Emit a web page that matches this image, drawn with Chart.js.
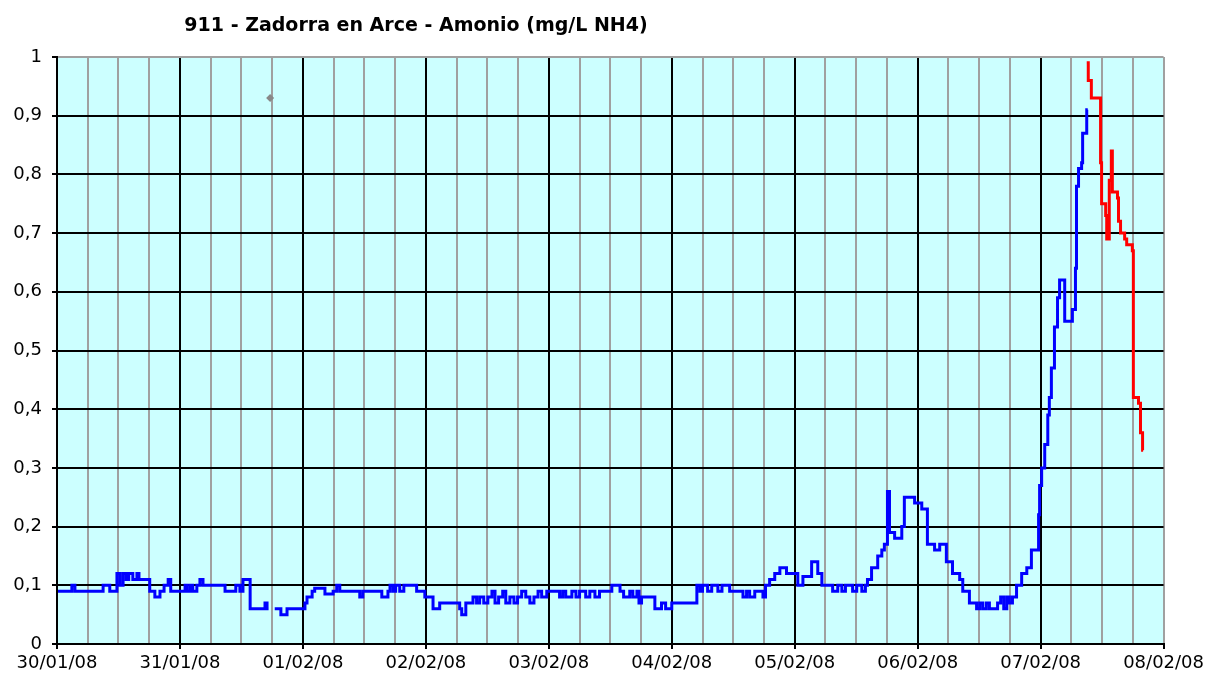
<!DOCTYPE html>
<html>
<head>
<meta charset="utf-8">
<script src="https://cdn.jsdelivr.net/npm/chart.js@4/dist/chart.umd.min.js"></script>
<style>
  html, body { margin: 0; padding: 0; background: #fff; }
  #wrap { width: 1208px; height: 681px; }
</style>
</head>
<body>
<div id="wrap"><canvas id="ammoniaChart" width="1208" height="681"></canvas></div>
<script>
// hours counted from 30/01/08 00:00
const dayLabels = ['30/01/08', '31/01/08', '01/02/08', '02/02/08', '03/02/08', '04/02/08', '05/02/08', '06/02/08', '07/02/08', '08/02/08'];
const yTickLabels = ['0', '0,1', '0,2', '0,3', '0,4', '0,5', '0,6', '0,7', '0,8', '0,9', '1'];

const blueHours = [0.2, 2.9, 3.5, 9.0, 10.3, 11.7, 12.3, 12.9, 13.5, 14.0, 14.8, 15.6, 16.0, 18.1, 19.1, 20.1, 20.9, 21.7, 22.2,
  25.0, 25.4, 26.0, 26.5, 27.3, 27.9, 28.5, 32.8, 34.9, 35.7, 36.3, 37.7, 40.6, 41.0, 41.3, 41.6,
  42.5, 43.7, 44.9, 48.4, 48.8, 49.8, 50.3, 52.3, 53.9, 54.6, 55.2, 59.1, 59.7, 63.4, 64.6, 65.0, 65.6, 66.1, 66.9, 67.7,
  70.2, 71.8, 73.4, 74.7, 78.6, 79.0, 79.8, 81.2, 81.9, 82.5, 83.3, 84.1, 84.9, 85.5, 86.2, 87.0, 87.6, 88.4, 89.2, 89.9,
  90.7, 91.5, 92.3, 93.1, 93.9, 94.6, 95.6, 98.1, 98.7, 99.3, 100.5, 101.3, 102.0, 103.2, 104.0, 105.0, 105.9,
  108.3, 109.9, 110.6, 111.8, 112.4, 113.2, 113.6, 114.1, 116.7, 118.0, 118.8, 120.0, 124.9, 125.5, 126.0, 127.0, 127.8,
  129.0, 129.8, 131.3, 133.9, 134.6, 135.2, 136.2, 137.8, 138.3, 139.1, 140.1, 141.1, 142.4, 144.6, 145.6, 147.3, 148.5,
  149.3, 151.4, 152.4, 153.2, 153.9, 155.3, 156.1, 157.1, 157.8, 158.2, 159.0, 160.2, 161.0, 161.5, 162.1, 162.5, 163.5,
  164.9, 165.4, 167.4, 168.8, 169.9, 171.3, 172.3, 173.6, 174.8, 176.2, 176.8, 178.1, 179.5, 180.1, 180.7, 181.4, 182.0,
  183.6, 184.2, 184.8, 185.4, 185.9, 186.5, 187.3, 188.3, 189.3, 190.2, 191.6, 191.8, 192.2, 192.8, 193.4, 193.7, 194.1,
  194.7, 195.3, 195.7, 196.7, 198.2, 198.8, 199.0, 199.4, 200.0, 200.2, 201.0, 201.2];
const blueValues = [0.09, 0.10, 0.09, 0.10, 0.09, 0.12, 0.10, 0.12, 0.11, 0.12, 0.11, 0.12, 0.11, 0.09, 0.08, 0.09, 0.10, 0.11, 0.09,
  0.10, 0.09, 0.10, 0.09, 0.10, 0.11, 0.10, 0.09, 0.10, 0.09, 0.11, 0.06, 0.07, 0.06, 0.06, null,
  0.06, 0.05, 0.06, 0.07, 0.08, 0.09, 0.095, 0.085, 0.09, 0.10, 0.09, 0.08, 0.09, 0.08, 0.09, 0.10, 0.09, 0.10, 0.09, 0.10,
  0.09, 0.08, 0.06, 0.07, 0.06, 0.05, 0.07, 0.08, 0.07, 0.08, 0.07, 0.08, 0.09, 0.07, 0.08, 0.09, 0.07, 0.08, 0.07, 0.08,
  0.09, 0.08, 0.07, 0.08, 0.09, 0.08, 0.09, 0.08, 0.09, 0.08, 0.09, 0.08, 0.09, 0.08, 0.09, 0.08, 0.09,
  0.10, 0.09, 0.08, 0.09, 0.08, 0.09, 0.07, 0.08, 0.06, 0.07, 0.06, 0.07, 0.10, 0.09, 0.10, 0.09, 0.10,
  0.09, 0.10, 0.09, 0.08, 0.09, 0.08, 0.09, 0.08, 0.10, 0.11, 0.12, 0.13, 0.12, 0.10, 0.115, 0.14, 0.12,
  0.10, 0.09, 0.10, 0.09, 0.10, 0.09, 0.10, 0.09, 0.10, 0.11, 0.13, 0.15, 0.16, 0.17, 0.26, 0.19, 0.18,
  0.20, 0.25, 0.24, 0.23, 0.17, 0.16, 0.17, 0.14, 0.12, 0.11, 0.09, 0.07, 0.06, 0.07, 0.06, 0.07, 0.06,
  0.07, 0.08, 0.06, 0.08, 0.07, 0.08, 0.10, 0.12, 0.13, 0.16, 0.22, 0.27, 0.30, 0.34, 0.39, 0.42, 0.47,
  0.54, 0.59, 0.62, 0.55, 0.57, 0.64, 0.78, 0.81, 0.82, 0.87, 0.91, 0.91];

const redHours = [201.0, 201.3, 201.9, 203.7, 203.9, 204.7, 204.9, 205.4, 205.8, 206.0, 207.0, 207.2, 207.6, 208.4, 208.8, 209.9, 210.1, 211.1, 211.5, 211.9, 212.0];
const redValues = [0.99, 0.96, 0.93, 0.82, 0.75, 0.73, 0.69, 0.79, 0.84, 0.77, 0.76, 0.72, 0.70, 0.69, 0.68, 0.67, 0.42, 0.41, 0.36, 0.33, 0.33];

const outlierHours = [41.6];
const outlierValues = [0.93];

function toPoints(xs, ys) {
    return xs.map((x, i) => ({ x: x, y: ys[i] }));
}

const plotBackground = {
    id: 'plotBackground',
    beforeDraw(chart) {
        const a = chart.chartArea;
        const c = chart.ctx;
        c.save();
        c.fillStyle = '#CCFFFF';
        c.fillRect(a.left, a.top, a.right - a.left, a.bottom - a.top);
        c.restore();
    }
};

const titleText = {
    id: 'titleText',
    afterDraw(chart) {
        const c = chart.ctx;
        c.save();
        c.font = 'bold 19px "DejaVu Sans"';
        c.fillStyle = '#000';
        c.textAlign = 'center';
        c.textBaseline = 'middle';
        c.fillText('911 - Zadorra en Arce - Amonio (mg/L NH4)', 416, 26);
        c.restore();
    }
};

const ctx = document.getElementById('ammoniaChart').getContext('2d');
const ammoniaChart = new Chart(ctx, {
    type: 'line',
    data: {
        datasets: [{
            label: 'Amonio',
            data: toPoints(blueHours, blueValues),
            borderColor: '#0000FF',
            borderWidth: 3,
            stepped: true,
            pointRadius: 0,
            spanGaps: false,
            fill: false
        }, {
            label: 'Amonio (2)',
            data: toPoints(redHours, redValues),
            borderColor: '#FF0000',
            borderWidth: 3,
            stepped: true,
            pointRadius: 0,
            fill: false
        }, {
            label: 'Aislado',
            data: toPoints(outlierHours, outlierValues),
            showLine: false,
            pointStyle: 'rectRot',
            pointRadius: 4,
            backgroundColor: '#888888',
            borderColor: '#888888',
            borderWidth: 0
        }]
    },
    options: {
        responsive: false,
        animation: false,
        layout: { padding: { top: 57, right: 44, left: 0, bottom: 0 } },
        plugins: {
            legend: { display: false },
            tooltip: { enabled: false },
            title: { display: false }
        },
        scales: {
            x: {
                type: 'linear',
                min: 0,
                max: 216,
                afterFit: (scale) => { scale.height = 37; },
                ticks: {
                    stepSize: 6,
                    autoSkip: false,
                    maxRotation: 0,
                    padding: 4,
                    color: '#000',
                    font: { family: 'DejaVu Sans', size: 18 },
                    callback: (v) => (v % 24 === 0 ? dayLabels[v / 24] : '')
                },
                grid: {
                    lineWidth: 2,
                    tickLength: 5,
                    color: (c) => (c.tick && c.tick.value % 24 === 0 && c.tick.value !== 216 ? '#000000' : '#A0A0A0'),
                    tickColor: (c) => (c.tick && c.tick.value % 24 === 0 ? '#000000' : 'rgba(0,0,0,0)')
                },
                border: { color: '#000', width: 2 }
            },
            y: {
                min: 0,
                max: 1,
                afterFit: (scale) => { scale.width = 57; },
                ticks: {
                    stepSize: 0.1,
                    padding: 10,
                    color: '#000',
                    font: { family: 'DejaVu Sans', size: 18 },
                    callback: (v) => yTickLabels[Math.round(v * 10)]
                },
                grid: {
                    lineWidth: 2,
                    tickLength: 5,
                    color: (c) => (c.tick && Math.round(c.tick.value * 10) === 10 ? '#A0A0A0' : '#000000'),
                    tickColor: '#000'
                },
                border: { color: '#000', width: 2 }
            }
        }
    },
    plugins: [plotBackground, titleText]
});
</script>
</body>
</html>
